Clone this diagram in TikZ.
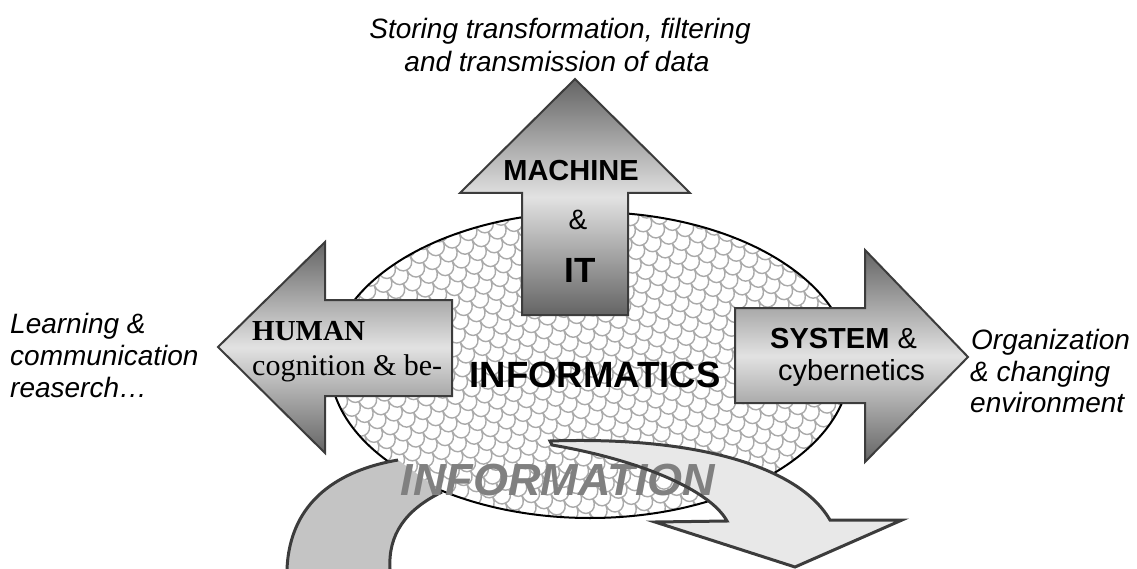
\documentclass[tikz,border=0pt]{standalone}
\usepackage{fontspec}
\setmainfont{Liberation Sans}
\newfontfamily\serifface{Liberation Serif}
\usetikzlibrary{patterns.meta}

\definecolor{edgegray}{RGB}{60,60,60}
\definecolor{shadedark}{RGB}{100,100,100}
\definecolor{shadelight}{RGB}{226,226,226}
\definecolor{bandgray}{RGB}{196,196,196}
\definecolor{paleflow}{RGB}{232,232,232}
\definecolor{scalegray}{RGB}{170,170,170}
\definecolor{infogray}{RGB}{128,128,128}

% shingle-like scales filling the central ellipse
\tikzdeclarepattern{
  name=scales,
  type=uncolored,
  bottom left={(-1pt,-1pt)},
  top right={(19pt,23pt)},
  tile size={(18pt,22pt)},
  tile transformation={rotate=25},
  code={
    \draw[line width=1.4pt, x=1pt, y=1pt]
      (0,22) .. controls (0,15) and (4,11) .. (9,11) .. controls (14,11) and (18,15) .. (18,22)
      (-9,11) .. controls (-9,4) and (-5,0) .. (0,0) .. controls (5,0) and (9,4) .. (9,11)
      (9,11) .. controls (9,4) and (13,0) .. (18,0) .. controls (23,0) and (27,4) .. (27,11);
  }
}

\tikzset{
  blockarrow/.style={draw=edgegray, line width=2pt, line join=miter,
    top color=shadedark, bottom color=shadedark, middle color=shadelight},
  label/.style={inner sep=0pt, font=\fontsize{28}{30}\selectfont\itshape},
  arrowtext/.style={inner sep=0pt, font=\fontsize{29}{31}\selectfont},
  flowedge/.style={draw=edgegray, line width=3pt},
}

\begin{document}
\begin{tikzpicture}[x=1pt, y=-1pt]
  \useasboundingbox (0,0) rectangle (1137,569);

  % central ellipse
  \fill[white] (590,365) ellipse [x radius=260, y radius=153];
  \fill[pattern={scales}, pattern color=scalegray] (590,365) ellipse [x radius=260, y radius=153];
  \draw[line width=2pt] (590,365) ellipse [x radius=260, y radius=153];

  % three block arrows
  \path[blockarrow] (575,79) -- (690,193) -- (628,193) -- (628,315) -- (522,315)
    -- (522,193) -- (460,193) -- cycle;
  \path[blockarrow] (218,347) -- (325,242) -- (325,300) -- (452,300) -- (452,396)
    -- (325,396) -- (325,453) -- cycle;
  \path[blockarrow] (968,357) -- (865,250) -- (865,308) -- (735,308) -- (735,403)
    -- (865,403) -- (865,462) -- cycle;

  % arrow texts
  \node[arrowtext, anchor=base, font=\fontsize{29}{31}\selectfont\bfseries] (machine) at (571,181) {MACHINE};
  \node[arrowtext, anchor=base, font=\fontsize{28}{30}\selectfont] (amp) at (578,230) {\&};
  \node[arrowtext, anchor=base, font=\fontsize{35}{37}\selectfont\bfseries] (it) at (580,283) {IT};
  \node[arrowtext, anchor=base west, font=\fontsize{29}{31}\selectfont\serifface\bfseries] (human) at (252,340) {HUMAN};
  \node[arrowtext, anchor=base west, font=\fontsize{30}{32}\selectfont\serifface] (cogn) at (252,375) {cognition \& be-};
  \node[arrowtext, anchor=base west] (system) at (770,348) {\textbf{SYSTEM} \&};
  \node[arrowtext, anchor=base west] (cyber) at (778,380) {cybernetics};

  \node[inner sep=0pt, anchor=base, font=\fontsize{36.5}{38}\selectfont\bfseries] (informatics) at (595,387) {INFORMATICS};

  % lower-left flow band
  \fill[bandgray] (287,569) .. controls (290,500) and (340,470) .. (398,460)
    -- (442,492) .. controls (405,510) and (388,535) .. (390,569) -- cycle;
  \draw[flowedge] (287,569) .. controls (290,500) and (340,470) .. (398,460);
  \draw[flowedge] (442,492) .. controls (405,510) and (388,535) .. (390,569);

  % lower-right curved arrow
  \fill[paleflow] (550,441) .. controls (700,436) and (800,468) .. (830,520)
    -- (902,520) -- (795,567) -- (655,522) -- (727,521)
    .. controls (710,490) and (640,460) .. (552,445) -- cycle;

  \node[inner sep=0pt, anchor=base, text=infogray, font=\fontsize{45}{47}\selectfont\bfseries\itshape] (information) at (558,495) {INFORMATION};

  \draw[flowedge, line join=miter] (550,441) .. controls (700,436) and (800,468) .. (830,520)
    -- (902,520) -- (795,567) -- (655,522) -- (727,521)
    .. controls (710,490) and (640,460) .. (552,445) -- cycle;

  % outer labels
  \node[label, anchor=base] (top1) at (560,39) {Storing transformation, filtering};
  \node[label, anchor=base] (top2) at (557,72) {and transmission of data};
  \node[label, anchor=base west] (left1) at (10,333) {Learning \&};
  \node[label, anchor=base west] (left2) at (10,365) {communication};
  \node[label, anchor=base west] (left3) at (10,397) {reaserch…};
  \node[label, anchor=base west] (right1) at (971,349) {Organization};
  \node[label, anchor=base west] (right2) at (970,381) {\& changing};
  \node[label, anchor=base west] (right3) at (970,412) {environment};
\end{tikzpicture}
\end{document}
